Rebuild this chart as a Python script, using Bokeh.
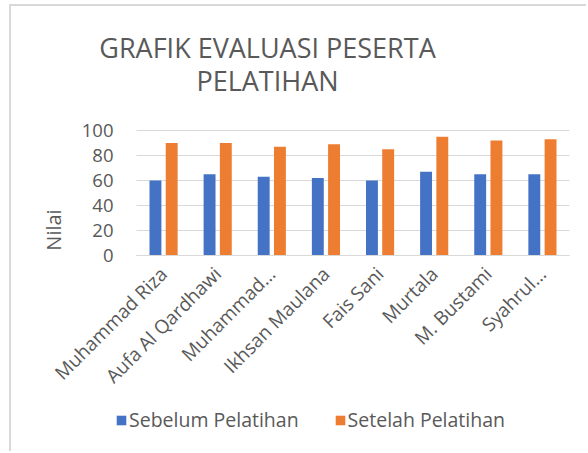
import math
from bokeh.plotting import figure
from bokeh.models import (ColumnDataSource, Range1d, Legend, LegendItem, Label,
                          FixedTicker)
from bokeh.transform import dodge
from bokeh.embed import file_html
from bokeh.resources import INLINE

names = ["Muhammad Riza", "Aufa Al Qardhawi", "Muhammad…", "Ikhsan Maulana",
         "Fais Sani", "Murtala", "M. Bustami", "Syahrul…"]
sebelum = [60, 65, 63, 62, 60, 67, 65, 65]
setelah = [90, 90, 87, 89, 85, 95, 92, 93]
series_names = ["Sebelum Pelatihan", "Setelah Pelatihan"]
y_ticks = [0, 20, 40, 60, 80, 100]
title_lines = ["GRAFIK EVALUASI PESERTA", "PELATIHAN"]
y_label = "Nilai"

FONT = "Open Sans"
TXT = "#595959"
GRID = "#d9d9d9"
BLUE = "#4472c4"
ORANGE = "#ed7d31"

pos = list(range(len(names)))
src = ColumnDataSource(dict(pos=pos, names=names, sebelum=sebelum, setelah=setelah))

W, H = 577, 447
# plot area: category band spans 433 px, value axis 0..100 spans 125 px
px_per_cat = 433 / len(names)
px_per_val = 125 / 100
x0 = -0.5 - 125 / px_per_cat
y0 = 0 - 198 / px_per_val
p = figure(title=None, width=W, height=H, output_backend="svg", toolbar_location=None,
           x_range=Range1d(x0, x0 + W / px_per_cat),
           y_range=Range1d(y0, y0 + H / px_per_val),
           min_border=0, min_border_left=0, min_border_right=0,
           min_border_top=0, min_border_bottom=0)
p.styles = {"margin-left": "9px", "margin-top": "4px",
            "border-top": "2px solid #d9d9d9", "border-left": "2px solid #d9d9d9"}
p.outline_line_color = None
p.background_fill_color = "white"
p.border_fill_color = "white"

b1 = p.vbar(x=dodge("pos", -0.15), top="sebelum", width=0.22,
            source=src, fill_color=BLUE, line_color=None)
b2 = p.vbar(x=dodge("pos", 0.15), top="setelah", width=0.22,
            source=src, fill_color=ORANGE, line_color=None)

# grid
p.xgrid.grid_line_color = None
p.ygrid.ticker = FixedTicker(ticks=y_ticks)
p.ygrid.grid_line_color = GRID
p.ygrid.grid_line_width = 1
try:
    p.ygrid.cross_bounds = (-0.5, len(names) - 0.5)
except Exception:
    p.ygrid.grid_line_color = None
    p.segment(x0=-0.5, x1=len(names) - 0.5, y0=y_ticks, y1=y_ticks,
              line_color=GRID, line_width=1, level="underlay")

# y axis
p.yaxis.fixed_location = -0.5
p.yaxis.ticker = FixedTicker(ticks=y_ticks)
p.yaxis.axis_line_color = None
p.yaxis.major_tick_line_color = None
p.yaxis.minor_tick_line_color = None
p.yaxis.major_tick_out = 0
p.yaxis.major_tick_in = 0
p.yaxis.major_label_standoff = 23
p.yaxis.major_label_text_font = FONT
p.yaxis.major_label_text_font_size = "18.5px"
p.yaxis.major_label_text_color = TXT
p.yaxis.axis_label = y_label
p.yaxis.axis_label_text_font = FONT
p.yaxis.axis_label_text_font_size = "20px"
p.yaxis.axis_label_text_font_style = "normal"
p.yaxis.axis_label_text_color = TXT
p.yaxis.axis_label_standoff = 12

# x axis
p.xaxis.fixed_location = 0
p.xaxis.bounds = (-0.5, len(names) - 0.5)
p.xaxis.ticker = FixedTicker(ticks=pos)
p.xaxis.major_label_overrides = {i: n for i, n in zip(pos, names)}
p.xaxis.axis_line_color = GRID
p.xaxis.axis_line_width = 1
p.xaxis.major_tick_line_color = None
p.xaxis.minor_tick_line_color = None
p.xaxis.major_tick_out = 0
p.xaxis.major_tick_in = 0
p.xaxis.major_label_orientation = math.pi / 4
p.xaxis.major_label_standoff = 15
p.xaxis.major_label_text_font = FONT
p.xaxis.major_label_text_font_size = "19px"
p.xaxis.major_label_text_color = TXT

# title: two centred lines
for i, line in enumerate(title_lines):
    p.add_layout(Label(x=256, y=406 - 33 * i, x_units="screen", y_units="screen",
                       text=line, text_align="center", text_baseline="middle",
                       text_font=FONT, text_font_size="27px", text_color=TXT))

# legend under the category labels
legend = Legend(items=[LegendItem(label=series_names[0], renderers=[b1]),
                       LegendItem(label=series_names[1], renderers=[b2])],
                location=(104, 20), orientation="horizontal",
                glyph_width=12, glyph_height=12, label_height=20,
                label_standoff=2, spacing=35, padding=0, margin=0,
                border_line_color=None, background_fill_alpha=0,
                label_text_font=FONT, label_text_font_size="19.5px",
                label_text_color=TXT)
p.add_layout(legend, "center")

open("out.html", "w").write(file_html(p, INLINE))
